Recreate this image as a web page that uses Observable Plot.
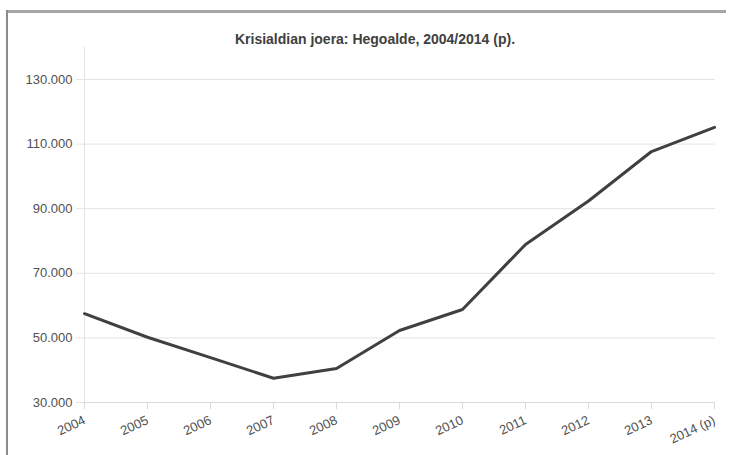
<!DOCTYPE html>
<html>
<head>
<meta charset="utf-8">
<script src="https://cdn.jsdelivr.net/npm/d3@7"></script>
<script src="https://cdn.jsdelivr.net/npm/@observablehq/plot@0.6"></script>
<style>
  html, body { margin: 0; padding: 0; background: #fff; overflow: hidden; }
  #wrap { position: relative; width: 730px; height: 455px; overflow: hidden; }
  #ftop { position: absolute; left: 6px; top: 10px; width: 720px; height: 3px; background: #a6a6a6; }
  #fleft { position: absolute; left: 6px; top: 10px; width: 2px; height: 445px; background: #8c8c8c; }
  #title { position: absolute; left: 0; width: 730px; padding-left: 20px; box-sizing: border-box;
           top: 31px; text-align: center;
           font: bold 14px "Liberation Sans", Arial, sans-serif; color: #404040; margin: 0; }
  #chart { position: absolute; left: 0; top: 0; }
</style>
</head>
<body>
<div id="wrap">
  <div id="ftop"></div>
  <div id="fleft"></div>
  <div id="chart"></div>
  <p id="title">Krisialdian joera: Hegoalde, 2004/2014 (p).</p>
</div>
<script>
const years = ["2004","2005","2006","2007","2008","2009","2010","2011","2012","2013","2014 (p)"];
const values = [57500, 50200, 43900, 37500, 40500, 52300, 58800, 78900, 92400, 107700, 115200];
const yTicks = [30000, 50000, 70000, 90000, 110000, 130000];

const data = years.map((y, i) => ({year: y, value: values[i]}));

const grid = "#e3e3e3";
const plot = Plot.plot({
  width: 730,
  height: 455,
  marginLeft: 83,
  marginRight: 15,
  marginTop: 46.7,
  marginBottom: 53,
  style: {fontFamily: "'Liberation Sans', Arial, sans-serif", fontSize: "13px", color: "#505050", background: "transparent"},
  x: {type: "point", domain: years, padding: 0, label: null},
  y: {domain: [30000, 140000], label: null},
  marks: [
    Plot.gridY(yTicks, {stroke: grid, strokeOpacity: 1, strokeWidth: 1}),
    Plot.ruleX([years[0]], {stroke: grid, strokeWidth: 1}),
    Plot.ruleY([30000], {stroke: "#d9d9d9", strokeWidth: 1}),
    Plot.axisY(yTicks, {tickSize: 7, tickPadding: 4, stroke: grid, label: null, tickFormat: d => (d/1000).toFixed(3), fill: "#505050"}),
    Plot.axisX(years, {tickSize: 7, tickPadding: 10, stroke: "#d9d9d9", label: null, tickRotate: -25, fill: "#505050"}),
    Plot.line(data, {x: "year", y: "value", stroke: "#404040", strokeWidth: 3, strokeLinejoin: "miter"})
  ]
});
document.getElementById("chart").appendChild(plot);
</script>
</body>
</html>
